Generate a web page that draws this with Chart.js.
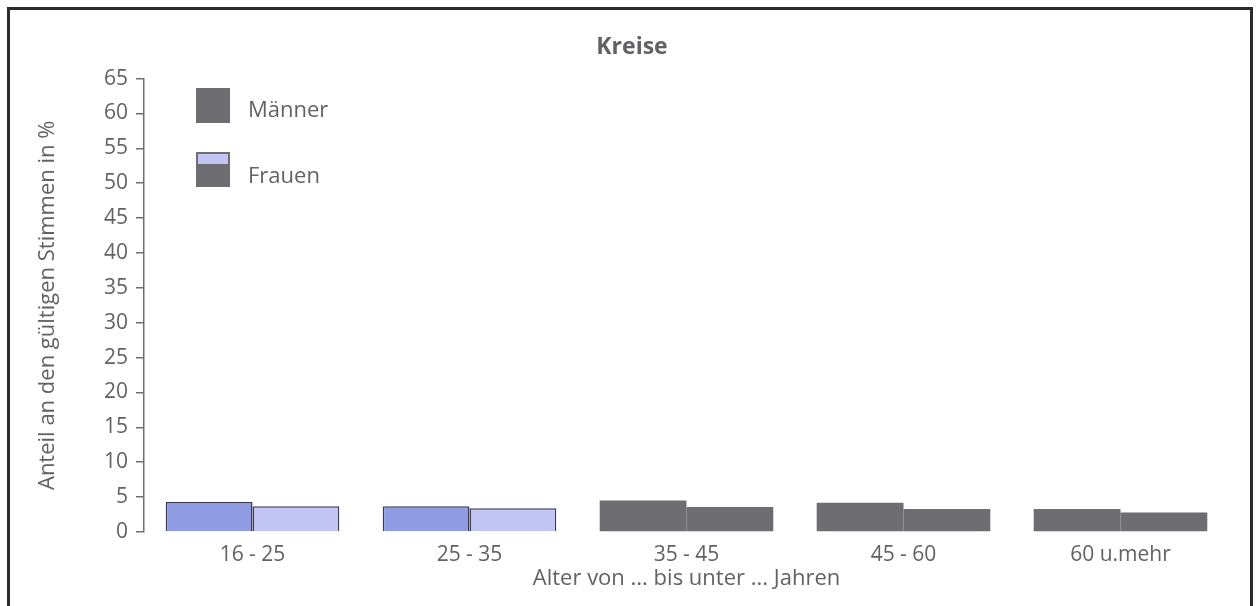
<!DOCTYPE html>
<html>
<head>
<meta charset="utf-8">
<script src="https://cdn.jsdelivr.net/npm/chart.js@4"></script>
<style>
  body { margin: 0; background: #fff; }
  #wrap { position: relative; width: 1259px; height: 606px; }
  #frame { position: absolute; left: 7px; top: 7px; width: 1246px; height: 610px;
           border: 3px solid #2b2b2e; border-bottom: none; box-sizing: border-box; }
  canvas { position: absolute; left: 0; top: 0; }
</style>
</head>
<body>
<div id="wrap">
  <canvas id="chart" width="1259" height="606"></canvas>
  <div id="frame"></div>
</div>
<script>
// Data
const categories = ['16 - 25', '25 - 35', '35 - 45', '45 - 60', '60 u.mehr'];
const maenner = [4.3, 3.7, 4.5, 4.2, 3.3];
const frauen = [3.7, 3.4, 3.6, 3.3, 2.8];
const yTicks = [0, 5, 10, 15, 20, 25, 30, 35, 40, 45, 50, 55, 60, 65];

// Colors
const textColor = '#626266';
const gray = '#6e6d72';
const blueDark = '#8f9be3';
const blueLight = '#c2c5f3';
const edge = '#3b3b52';

// first two groups are blue, the rest grey (as in the scan)
const menColors = categories.map((c, i) => i < 2 ? blueDark : gray);
const womenColors = categories.map((c, i) => i < 2 ? blueLight : gray);
const edgeColors = categories.map((c, i) => i < 2 ? edge : gray);
const edgeWidths = categories.map((c, i) => i < 2 ? 1.5 : 0);

const fontFamily = '"Open Sans", "DejaVu Sans", sans-serif';

// Legend drawn inside the plot, top-left
const insideLegend = {
  id: 'insideLegend',
  afterDraw(chart) {
    const ctx = chart.ctx;
    const x = 196, size = 35;
    const rows = [
      { label: chart.data.datasets[0].label, y: 88, base: 117 },
      { label: chart.data.datasets[1].label, y: 152, base: 183 }
    ];
    ctx.save();
    // Männer
    ctx.fillStyle = gray;
    ctx.fillRect(x, rows[0].y, size - 1, size);
    // Frauen (light blue top strip, grey below)
    ctx.fillStyle = gray;
    ctx.fillRect(x, rows[1].y, size - 1, size);
    ctx.fillStyle = blueLight;
    ctx.fillRect(x + 2, rows[1].y + 2, size - 5, 10);
    ctx.fillStyle = textColor;
    ctx.font = '22px ' + fontFamily;
    ctx.textBaseline = 'alphabetic';
    rows.forEach(r => ctx.fillText(r.label, x + 52, r.base));
    ctx.restore();
  }
};

new Chart(document.getElementById('chart').getContext('2d'), {
  type: 'bar',
  data: {
    labels: categories,
    datasets: [
      {
        label: 'Männer',
        data: maenner,
        backgroundColor: menColors,
        borderColor: edgeColors,
        borderWidth: edgeWidths,
        categoryPercentage: 0.8,
        barPercentage: 1.0
      },
      {
        label: 'Frauen',
        data: frauen,
        backgroundColor: womenColors,
        borderColor: edgeColors,
        borderWidth: edgeWidths,
        categoryPercentage: 0.8,
        barPercentage: 1.0
      }
    ]
  },
  options: {
    responsive: false,
    animation: false,
    layout: { padding: { left: 35, right: 30, top: 33, bottom: 14 } },
    plugins: {
      legend: { display: false },
      tooltip: { enabled: false },
      title: {
        display: true,
        text: 'Kreise',
        color: textColor,
        font: { family: fontFamily, size: 23, weight: 'bold' },
        padding: { top: 1, bottom: 17 }
      }
    },
    scales: {
      x: {
        grid: { display: false },
        border: { display: false },
        ticks: {
          color: textColor,
          font: { family: fontFamily, size: 21 },
          padding: 2,
          maxRotation: 0
        },
        title: {
          display: true,
          text: 'Alter von ... bis unter ... Jahren',
          color: textColor,
          font: { family: fontFamily, size: 22 },
          padding: { top: 0, bottom: 0 }
        },
        afterFit(scale) { scale.height = 60; }
      },
      y: {
        min: 0,
        max: 65,
        afterBuildTicks(scale) { scale.ticks = yTicks.map(v => ({ value: v })); },
        grid: {
          display: true,
          drawOnChartArea: false,
          drawTicks: true,
          tickLength: 8,
          color: gray,
          lineWidth: 1.5
        },
        border: { display: true, color: gray, width: 1.5 },
        ticks: {
          color: textColor,
          font: { family: fontFamily, size: 21 },
          padding: 8
        },
        title: {
          display: true,
          text: 'Anteil an den gültigen Stimmen in %',
          color: textColor,
          font: { family: fontFamily, size: 22 },
          padding: { top: 0, bottom: 0 }
        },
        afterFit(scale) { scale.width = 109; }
      }
    }
  },
  plugins: [insideLegend]
});
</script>
</body>
</html>
